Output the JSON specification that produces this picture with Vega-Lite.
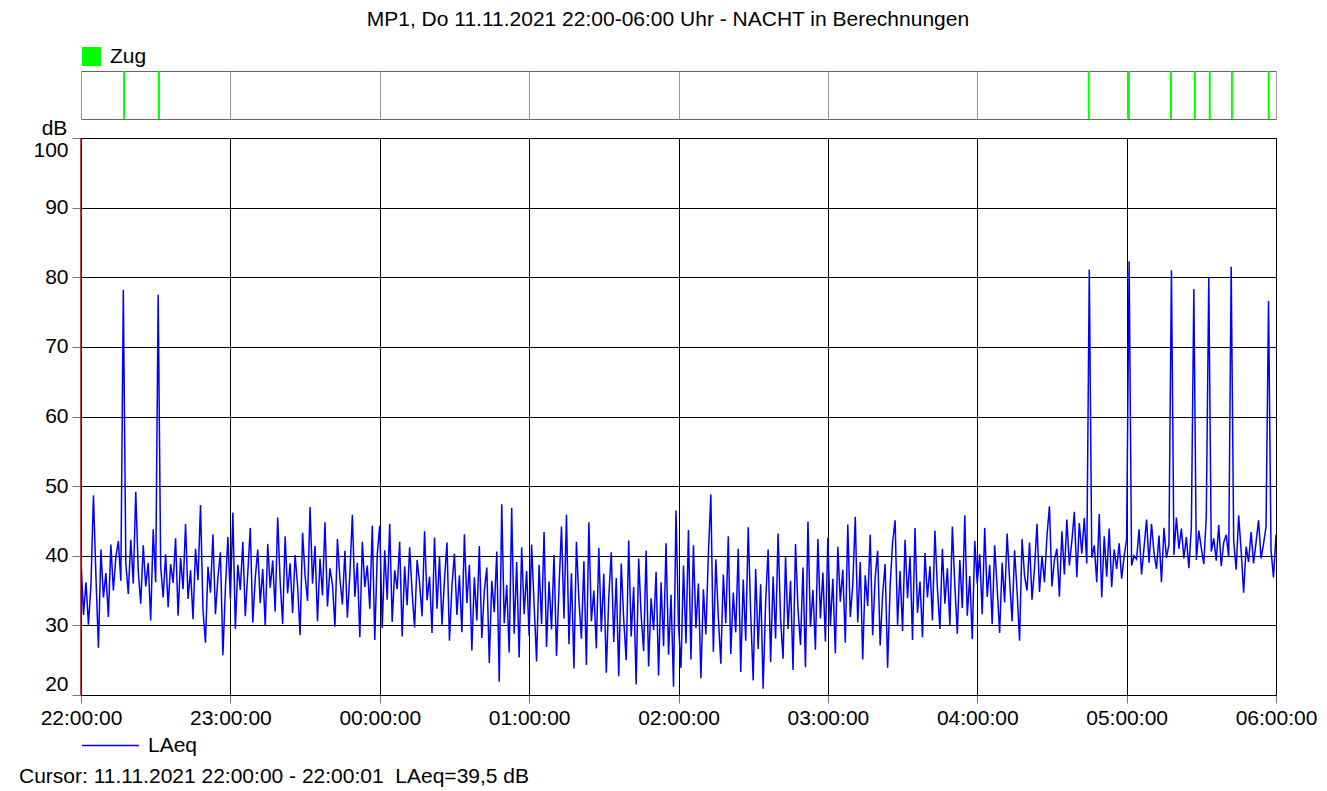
{
"$schema": "https://vega.github.io/schema/vega-lite/v6.json",
"background": "white",
"padding": {"left": 18, "top": 8, "right": 8, "bottom": 2},
"title": {"text": "MP1, Do 11.11.2021 22:00-06:00 Uhr - NACHT in Berechnungen", "anchor": "middle", "frame": "bounds", "offset": 16},
"spacing": 19,
"bounds": "flush",
"resolve": {"scale": {"color": "independent", "x": "independent"}, "legend": {"color": "independent"}},
"config": {
  "font": "Liberation Sans",
  "view": {"stroke": "black"},
  "axis": {"labelFont": "Liberation Sans", "labelFontSize": 21, "labelColor": "black", "gridColor": "black", "gridOpacity": 1, "gridWidth": 1, "tickColor": "#777", "domainColor": "black", "titleFont": "Liberation Sans", "titleFontSize": 21, "titleFontWeight": "normal", "titleColor": "black"},
  "legend": {"labelFont": "Liberation Sans", "labelFontSize": 21, "labelColor": "black"},
  "title": {"font": "Liberation Sans", "fontSize": 21, "fontWeight": "normal", "color": "black"}
},
"vconcat": [
{
  "width": 1195, "height": 48,
  "view": {"stroke": "#666"},
  "data": {"values": [{"m":17.3},{"m":31.3},{"m":404.8},{"m":420.9},{"m":437.8},{"m":447.4},{"m":453.4},{"m":462.3},{"m":477.1}]},
  "mark": {"type": "rule", "strokeWidth": 2},
  "encoding": {
    "x": {"field": "m", "type": "quantitative", "scale": {"domain": [0, 480], "nice": false, "zero": false},
          "axis": {"values": [0,60,120,180,240,300,360,420,480], "grid": true, "gridColor": "#999", "labels": false, "ticks": false, "domain": false, "title": null}},
    "color": {"datum": "Zug", "type": "nominal", "scale": {"domain": ["Zug"], "range": ["#00ff00"]},
      "legend": {"orient": "top", "title": null, "symbolType": "square", "symbolSize": 361, "symbolFillColor": "#00ff00", "symbolStrokeColor": "#00ff00", "symbolStrokeWidth": 0, "labelOffset": 8, "offset": 4,
        "encode": {"symbols": {"update": {"fill": {"value": "#00ff00"}, "stroke": {"value": "#00ff00"}, "strokeWidth": {"value": 0}, "fillOpacity": {"value": 1}}}}}}
  }
},
{
  "width": 1195, "height": 557,
  "title": {"text": "Cursor: 11.11.2021 22:00:00 - 22:00:01\u00a0 LAeq=39,5 dB", "orient": "bottom", "anchor": "start", "frame": "group", "dx": -62, "offset": 10},
  "data": {"values": [
{"m":0,"v":39.5},{"m":1,"v":31.5},{"m":2,"v":36.2},{"m":3,"v":30.1},{"m":4,"v":35.8},{"m":5,"v":48.7},{"m":6,"v":37.0},{"m":7,"v":26.8},{"m":8,"v":40.9},{"m":9,"v":34.0},
{"m":10,"v":37.5},{"m":11,"v":31.2},{"m":12,"v":41.6},{"m":13,"v":35.0},{"m":14,"v":39.8},{"m":15,"v":42.1},{"m":16,"v":36.4},{"m":17,"v":78.2},{"m":18,"v":38.9},{"m":19,"v":34.5},
{"m":20,"v":42.3},{"m":21,"v":36.0},{"m":22,"v":49.2},{"m":23,"v":37.8},{"m":24,"v":33.1},{"m":25,"v":41.5},{"m":26,"v":35.6},{"m":27,"v":39.0},{"m":28,"v":30.7},{"m":29,"v":43.8},
{"m":30,"v":36.2},{"m":31,"v":77.5},{"m":32,"v":38.5},{"m":33,"v":34.0},{"m":34,"v":40.2},{"m":35,"v":32.6},{"m":36,"v":38.8},{"m":37,"v":36.1},{"m":38,"v":42.5},{"m":39,"v":31.4},
{"m":40,"v":39.7},{"m":41,"v":35.2},{"m":42,"v":44.6},{"m":43,"v":33.8},{"m":44,"v":37.9},{"m":45,"v":30.9},{"m":46,"v":41.0},{"m":47,"v":36.5},{"m":48,"v":47.3},{"m":49,"v":32.2},
{"m":50,"v":27.5},{"m":51,"v":38.4},{"m":52,"v":34.7},{"m":53,"v":43.1},{"m":54,"v":31.6},{"m":55,"v":36.9},{"m":56,"v":40.5},{"m":57,"v":25.7},{"m":58,"v":35.3},{"m":59,"v":42.7},
{"m":60,"v":33.8},{"m":61,"v":46.2},{"m":62,"v":29.5},{"m":63,"v":38.7},{"m":64,"v":35.1},{"m":65,"v":42.0},{"m":66,"v":31.3},{"m":67,"v":37.6},{"m":68,"v":44.0},{"m":69,"v":30.4},
{"m":70,"v":36.8},{"m":71,"v":40.9},{"m":72,"v":33.2},{"m":73,"v":38.1},{"m":74,"v":29.9},{"m":75,"v":41.7},{"m":76,"v":35.4},{"m":77,"v":39.3},{"m":78,"v":32.0},{"m":79,"v":45.5},
{"m":80,"v":36.3},{"m":81,"v":30.2},{"m":82,"v":42.8},{"m":83,"v":34.6},{"m":84,"v":38.9},{"m":85,"v":31.8},{"m":86,"v":40.1},{"m":87,"v":35.7},{"m":88,"v":28.6},{"m":89,"v":43.3},
{"m":90,"v":37.2},{"m":91,"v":33.5},{"m":92,"v":47.0},{"m":93,"v":36.0},{"m":94,"v":41.4},{"m":95,"v":30.6},{"m":96,"v":39.6},{"m":97,"v":34.3},{"m":98,"v":44.8},{"m":99,"v":32.7},
{"m":100,"v":38.2},{"m":101,"v":35.9},{"m":102,"v":29.8},{"m":103,"v":42.4},{"m":104,"v":36.7},{"m":105,"v":33.0},{"m":106,"v":40.7},{"m":107,"v":31.1},{"m":108,"v":37.4},{"m":109,"v":45.9},
{"m":110,"v":34.1},{"m":111,"v":39.0},{"m":112,"v":28.3},{"m":113,"v":42.0},{"m":114,"v":35.5},{"m":115,"v":38.6},{"m":116,"v":32.4},{"m":117,"v":44.3},{"m":118,"v":27.9},{"m":119,"v":40.2},
{"m":120,"v":44.3},{"m":121,"v":29.6},{"m":122,"v":40.8},{"m":123,"v":33.7},{"m":124,"v":44.6},{"m":125,"v":30.5},{"m":126,"v":37.9},{"m":127,"v":35.2},{"m":128,"v":42.0},{"m":129,"v":28.4},
{"m":130,"v":38.5},{"m":131,"v":32.9},{"m":132,"v":41.2},{"m":133,"v":34.8},{"m":134,"v":29.7},{"m":135,"v":39.4},{"m":136,"v":36.1},{"m":137,"v":31.3},{"m":138,"v":43.5},{"m":139,"v":33.6},
{"m":140,"v":37.0},{"m":141,"v":28.9},{"m":142,"v":42.6},{"m":143,"v":32.4},{"m":144,"v":39.8},{"m":145,"v":30.1},{"m":146,"v":36.5},{"m":147,"v":41.9},{"m":148,"v":27.8},{"m":149,"v":35.7},
{"m":150,"v":40.3},{"m":151,"v":31.5},{"m":152,"v":37.2},{"m":153,"v":29.0},{"m":154,"v":43.1},{"m":155,"v":33.2},{"m":156,"v":38.7},{"m":157,"v":26.4},{"m":158,"v":36.9},{"m":159,"v":30.7},
{"m":160,"v":41.4},{"m":161,"v":28.2},{"m":162,"v":34.9},{"m":163,"v":38.3},{"m":164,"v":24.6},{"m":165,"v":36.4},{"m":166,"v":31.9},{"m":167,"v":40.6},{"m":168,"v":21.9},{"m":169,"v":47.4},
{"m":170,"v":30.3},{"m":171,"v":35.8},{"m":172,"v":26.1},{"m":173,"v":46.9},{"m":174,"v":28.8},{"m":175,"v":39.1},{"m":176,"v":25.4},{"m":177,"v":41.2},{"m":178,"v":31.6},{"m":179,"v":37.8},
{"m":180,"v":28.5},{"m":181,"v":41.6},{"m":182,"v":33.0},{"m":183,"v":24.8},{"m":184,"v":38.7},{"m":185,"v":30.2},{"m":186,"v":43.4},{"m":187,"v":26.9},{"m":188,"v":36.3},{"m":189,"v":29.4},
{"m":190,"v":40.1},{"m":191,"v":25.6},{"m":192,"v":35.4},{"m":193,"v":44.2},{"m":194,"v":31.0},{"m":195,"v":45.9},{"m":196,"v":27.3},{"m":197,"v":37.5},{"m":198,"v":23.8},{"m":199,"v":42.0},
{"m":200,"v":33.6},{"m":201,"v":28.1},{"m":202,"v":39.2},{"m":203,"v":24.3},{"m":204,"v":44.8},{"m":205,"v":30.6},{"m":206,"v":35.0},{"m":207,"v":26.7},{"m":208,"v":41.1},{"m":209,"v":29.1},
{"m":210,"v":37.4},{"m":211,"v":23.2},{"m":212,"v":34.1},{"m":213,"v":40.5},{"m":214,"v":27.6},{"m":215,"v":36.8},{"m":216,"v":22.7},{"m":217,"v":38.9},{"m":218,"v":30.8},{"m":219,"v":25.0},
{"m":220,"v":42.2},{"m":221,"v":28.4},{"m":222,"v":35.5},{"m":223,"v":21.5},{"m":224,"v":39.6},{"m":225,"v":31.4},{"m":226,"v":26.3},{"m":227,"v":40.7},{"m":228,"v":24.1},{"m":229,"v":33.9},
{"m":230,"v":29.3},{"m":231,"v":37.7},{"m":232,"v":22.8},{"m":233,"v":36.2},{"m":234,"v":27.0},{"m":235,"v":41.8},{"m":236,"v":25.8},{"m":237,"v":34.4},{"m":238,"v":21.2},{"m":239,"v":46.5},
{"m":240,"v":30.0},{"m":241,"v":23.9},{"m":242,"v":38.6},{"m":243,"v":27.4},{"m":244,"v":43.7},{"m":245,"v":25.1},{"m":246,"v":41.5},{"m":247,"v":29.6},{"m":248,"v":36.0},{"m":249,"v":22.4},
{"m":250,"v":35.2},{"m":251,"v":28.7},{"m":252,"v":40.3},{"m":253,"v":48.8},{"m":254,"v":26.2},{"m":255,"v":39.5},{"m":256,"v":31.2},{"m":257,"v":24.5},{"m":258,"v":37.3},{"m":259,"v":30.3},
{"m":260,"v":42.8},{"m":261,"v":25.9},{"m":262,"v":34.7},{"m":263,"v":29.0},{"m":264,"v":41.0},{"m":265,"v":23.3},{"m":266,"v":36.6},{"m":267,"v":27.8},{"m":268,"v":44.1},{"m":269,"v":31.7},
{"m":270,"v":22.1},{"m":271,"v":38.1},{"m":272,"v":26.6},{"m":273,"v":35.9},{"m":274,"v":20.9},{"m":275,"v":33.4},{"m":276,"v":40.9},{"m":277,"v":24.7},{"m":278,"v":37.0},{"m":279,"v":28.1},
{"m":280,"v":43.2},{"m":281,"v":30.9},{"m":282,"v":25.2},{"m":283,"v":39.8},{"m":284,"v":29.5},{"m":285,"v":36.4},{"m":286,"v":23.6},{"m":287,"v":41.7},{"m":288,"v":32.3},{"m":289,"v":27.2},
{"m":290,"v":38.3},{"m":291,"v":24.0},{"m":292,"v":44.9},{"m":293,"v":29.8},{"m":294,"v":35.1},{"m":295,"v":26.5},{"m":296,"v":42.4},{"m":297,"v":31.0},{"m":298,"v":37.6},{"m":299,"v":27.7},
{"m":300,"v":42.6},{"m":301,"v":29.9},{"m":302,"v":36.7},{"m":303,"v":26.0},{"m":304,"v":41.3},{"m":305,"v":33.4},{"m":306,"v":38.0},{"m":307,"v":27.5},{"m":308,"v":44.5},{"m":309,"v":31.2},
{"m":310,"v":35.8},{"m":311,"v":45.6},{"m":312,"v":30.4},{"m":313,"v":39.1},{"m":314,"v":25.1},{"m":315,"v":37.2},{"m":316,"v":32.8},{"m":317,"v":43.0},{"m":318,"v":28.6},{"m":319,"v":36.9},
{"m":320,"v":40.7},{"m":321,"v":27.1},{"m":322,"v":34.5},{"m":323,"v":38.8},{"m":324,"v":23.9},{"m":325,"v":35.6},{"m":326,"v":41.9},{"m":327,"v":45.1},{"m":328,"v":30.1},{"m":329,"v":37.8},
{"m":330,"v":29.2},{"m":331,"v":42.3},{"m":332,"v":33.9},{"m":333,"v":39.9},{"m":334,"v":27.9},{"m":335,"v":44.0},{"m":336,"v":31.8},{"m":337,"v":36.3},{"m":338,"v":28.3},{"m":339,"v":40.4},
{"m":340,"v":34.0},{"m":341,"v":38.5},{"m":342,"v":30.7},{"m":343,"v":43.6},{"m":344,"v":35.3},{"m":345,"v":29.5},{"m":346,"v":41.0},{"m":347,"v":33.1},{"m":348,"v":38.2},{"m":349,"v":30.0},
{"m":350,"v":44.2},{"m":351,"v":35.7},{"m":352,"v":28.8},{"m":353,"v":39.4},{"m":354,"v":32.5},{"m":355,"v":45.8},{"m":356,"v":31.4},{"m":357,"v":37.1},{"m":358,"v":28.0},{"m":359,"v":42.1},
{"m":360,"v":36.0},{"m":361,"v":40.2},{"m":362,"v":31.6},{"m":363,"v":44.0},{"m":364,"v":34.1},{"m":365,"v":38.7},{"m":366,"v":30.2},{"m":367,"v":41.5},{"m":368,"v":35.4},{"m":369,"v":28.9},
{"m":370,"v":39.0},{"m":371,"v":33.3},{"m":372,"v":43.2},{"m":373,"v":36.5},{"m":374,"v":30.6},{"m":375,"v":40.8},{"m":376,"v":34.9},{"m":377,"v":27.8},{"m":378,"v":42.4},{"m":379,"v":37.1},
{"m":380,"v":35.0},{"m":381,"v":41.9},{"m":382,"v":33.7},{"m":383,"v":38.2},{"m":384,"v":44.6},{"m":385,"v":34.8},{"m":386,"v":40.0},{"m":387,"v":36.2},{"m":388,"v":42.8},{"m":389,"v":47.1},
{"m":390,"v":35.6},{"m":391,"v":39.4},{"m":392,"v":41.0},{"m":393,"v":34.1},{"m":394,"v":43.5},{"m":395,"v":37.3},{"m":396,"v":45.2},{"m":397,"v":38.6},{"m":398,"v":42.1},{"m":399,"v":46.3},
{"m":400,"v":36.9},{"m":401,"v":44.7},{"m":402,"v":40.3},{"m":403,"v":45.4},{"m":404,"v":38.9},{"m":405,"v":81.1},{"m":406,"v":39.7},{"m":407,"v":41.5},{"m":408,"v":36.2},{"m":409,"v":46.0},
{"m":410,"v":34.0},{"m":411,"v":42.8},{"m":412,"v":37.0},{"m":413,"v":43.9},{"m":414,"v":35.5},{"m":415,"v":40.9},{"m":416,"v":38.1},{"m":417,"v":41.8},{"m":418,"v":36.7},{"m":419,"v":39.9},
{"m":420,"v":42.4},{"m":421,"v":82.3},{"m":422,"v":38.6},{"m":423,"v":40.0},{"m":424,"v":39.5},{"m":425,"v":43.8},{"m":426,"v":37.3},{"m":427,"v":41.2},{"m":428,"v":45.2},{"m":429,"v":39.0},
{"m":430,"v":44.6},{"m":431,"v":40.4},{"m":432,"v":38.1},{"m":433,"v":42.9},{"m":434,"v":36.2},{"m":435,"v":44.0},{"m":436,"v":39.7},{"m":437,"v":41.6},{"m":438,"v":81.0},{"m":439,"v":40.1},
{"m":440,"v":45.5},{"m":441,"v":41.0},{"m":442,"v":43.9},{"m":443,"v":39.6},{"m":444,"v":42.7},{"m":445,"v":38.2},{"m":446,"v":44.1},{"m":447,"v":78.3},{"m":448,"v":39.4},{"m":449,"v":43.6},
{"m":450,"v":41.1},{"m":451,"v":38.8},{"m":452,"v":45.7},{"m":453,"v":80.0},{"m":454,"v":40.6},{"m":455,"v":42.5},{"m":456,"v":39.3},{"m":457,"v":44.4},{"m":458,"v":38.5},{"m":459,"v":41.9},
{"m":460,"v":43.0},{"m":461,"v":39.8},{"m":462,"v":81.5},{"m":463,"v":42.2},{"m":464,"v":38.0},{"m":465,"v":45.8},{"m":466,"v":40.7},{"m":467,"v":34.7},{"m":468,"v":41.3},{"m":469,"v":39.1},
{"m":470,"v":43.4},{"m":471,"v":38.9},{"m":472,"v":42.0},{"m":473,"v":45.1},{"m":474,"v":39.6},{"m":475,"v":41.7},{"m":476,"v":44.2},{"m":477,"v":76.6},{"m":478,"v":40.8},{"m":479,"v":36.9},
{"m":480,"v":43.0}
  ]},
  "encoding": {
    "x": {"field": "m", "type": "quantitative", "scale": {"domain": [0, 480], "nice": false, "zero": false},
          "axis": {"values": [0,60,120,180,240,300,360,420,480], "grid": true, "tickSize": 8, "labelPadding": 4, "labelOverlap": false, "labelFlush": false, "title": null,
                   "labelExpr": "timeFormat(datetime(2021,10,11,22,datum.value,0),'%H:%M:%S')"}}
  },
  "layer": [
    {
      "mark": {"type": "line", "strokeWidth": 1.5, "clip": true},
      "encoding": {
        "y": {"field": "v", "type": "quantitative", "scale": {"domain": [20, 100], "nice": false, "zero": false},
              "axis": {"values": [20,30,40,50,60,70,80,90,100], "grid": true, "tickSize": 9, "labelPadding": 4, "labelFlush": true, "labelFlushOffset": -1, "title": "dB", "titleAngle": 0, "titleX": -27, "titleY": -4, "titleAlign": "center", "titleBaseline": "alphabetic"}},
        "color": {"datum": "LAeq", "type": "nominal", "scale": {"domain": ["LAeq"], "range": ["#0000ff"]},
                  "legend": {"orient": "bottom", "title": null, "symbolType": "stroke", "symbolSize": 3249, "symbolStrokeWidth": 1.3, "labelOffset": 8, "offset": -12}}
      }
    },
    {
      "data": {"values": [{"m": 0}]},
      "mark": {"type": "rule", "color": "#b00000", "strokeWidth": 1.5},
      "encoding": {}
    }
  ]
}
]
}
